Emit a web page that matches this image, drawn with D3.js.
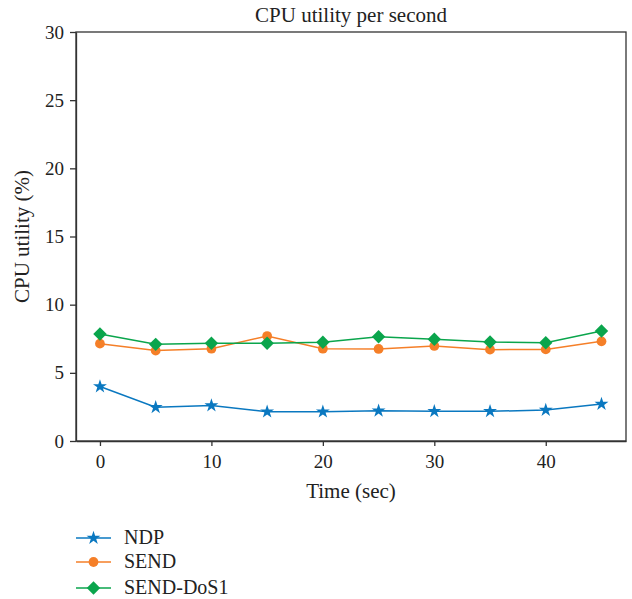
<!DOCTYPE html>
<html>
<head>
<meta charset="utf-8">
<script src="https://cdn.jsdelivr.net/npm/d3@7"></script>
<style>
  body { margin: 0; background: #fff; }
  text { font-family: "Liberation Serif", "DejaVu Serif", serif; fill: #222; }
</style>
</head>
<body>
<div id="chart"></div>
<script>
// values
var times = [0, 5, 10, 15, 20, 25, 30, 35, 40, 45];
var ndp = [4.0, 2.47, 2.6, 2.15, 2.15, 2.22, 2.18, 2.18, 2.27, 2.71];
var send = [7.14, 6.63, 6.77, 7.7, 6.77, 6.75, 6.97, 6.7, 6.72, 7.31];
var sendDos = [7.85, 7.09, 7.17, 7.17, 7.24, 7.65, 7.46, 7.26, 7.21, 8.07];
var xTicks = [0, 10, 20, 30, 40];
var yTicks = [0, 5, 10, 15, 20, 25, 30];

var series = [
  {name: "NDP", values: ndp, color: "#0a78c0", shape: "star"},
  {name: "SEND", values: send, color: "#f57f28", shape: "circle"},
  {name: "SEND-DoS1", values: sendDos, color: "#0aa54c", shape: "diamond"}
];

var width = 632, height = 599;
var mLeft = 76, mRight = 626, mTop = 32, mBottom = 441;

var svg = d3.select("#chart").append("svg")
    .attr("width", width)
    .attr("height", height);

var x = d3.scaleLinear().domain([-2.15, 47.2]).range([mLeft, mRight]);
var y = d3.scaleLinear().domain([0, 30]).range([mBottom, mTop]);

// box
svg.append("rect")
    .attr("x", mLeft).attr("y", mTop)
    .attr("width", mRight - mLeft).attr("height", mBottom - mTop)
    .attr("fill", "none").attr("stroke", "#333").attr("stroke-width", 1.3);

var xAxis = svg.append("g")
    .attr("transform", "translate(0," + mBottom + ")")
    .call(d3.axisBottom(x).tickValues(xTicks).tickSizeInner(5).tickSizeOuter(0).tickPadding(9));
var yAxis = svg.append("g")
    .attr("transform", "translate(" + mLeft + ",0)")
    .call(d3.axisLeft(y).tickValues(yTicks).tickSizeInner(6).tickSizeOuter(0).tickPadding(6));

[xAxis, yAxis].forEach(function(g){
  g.select(".domain").attr("stroke", "#333").attr("stroke-width", 1.3);
  g.selectAll(".tick line").attr("stroke", "#333").attr("stroke-width", 1.3);
  g.selectAll(".tick text").style("font-family", "Liberation Serif, serif")
      .style("font-size", "19px").attr("fill", "#222");
});

svg.append("text")
    .attr("x", (mLeft + mRight) / 2).attr("y", 22)
    .attr("text-anchor", "middle").style("font-size", "21px")
    .text("CPU utility per second");

svg.append("text")
    .attr("x", (mLeft + mRight) / 2).attr("y", 498)
    .attr("text-anchor", "middle").style("font-size", "21px")
    .text("Time (sec)");

svg.append("text")
    .attr("transform", "translate(29," + ((mTop + mBottom) / 2) + ") rotate(-90)")
    .attr("text-anchor", "middle").style("font-size", "21px")
    .text("CPU utility (%)");

var symbols = {
  star: d3.symbol().type(d3.symbolStar).size(60),
  circle: d3.symbol().type(d3.symbolCircle).size(75),
  diamond: d3.symbol().type(d3.symbolSquare).size(90)
};

function drawMarker(g, shape, color, px, py) {
  var p = g.append("path")
      .attr("d", symbols[shape]())
      .attr("fill", color);
  if (shape === "diamond") {
    p.attr("transform", "translate(" + px + "," + py + ") rotate(45)");
  } else {
    p.attr("transform", "translate(" + px + "," + py + ")");
  }
}

var line = d3.line()
    .x(function(d){ return x(d[0]); })
    .y(function(d){ return y(d[1]); });

series.forEach(function(s){
  var pts = times.map(function(t, i){ return [t, s.values[i]]; });
  var g = svg.append("g");
  g.append("path")
      .attr("d", line(pts))
      .attr("fill", "none")
      .attr("stroke", s.color)
      .attr("stroke-width", 1.5);
  pts.forEach(function(d){
    drawMarker(g, s.shape, s.color, x(d[0]), y(d[1]));
  });
});

// legend
var legendY = [538, 562, 588];
series.forEach(function(s, i){
  var g = svg.append("g");
  g.append("line")
      .attr("x1", 76).attr("x2", 111)
      .attr("y1", legendY[i]).attr("y2", legendY[i])
      .attr("stroke", s.color).attr("stroke-width", 1.5);
  drawMarker(g, s.shape, s.color, 93.5, legendY[i]);
  g.append("text")
      .attr("x", 124).attr("y", legendY[i] + 6)
      .style("font-size", "20px")
      .text(s.name);
});
</script>
</body>
</html>
